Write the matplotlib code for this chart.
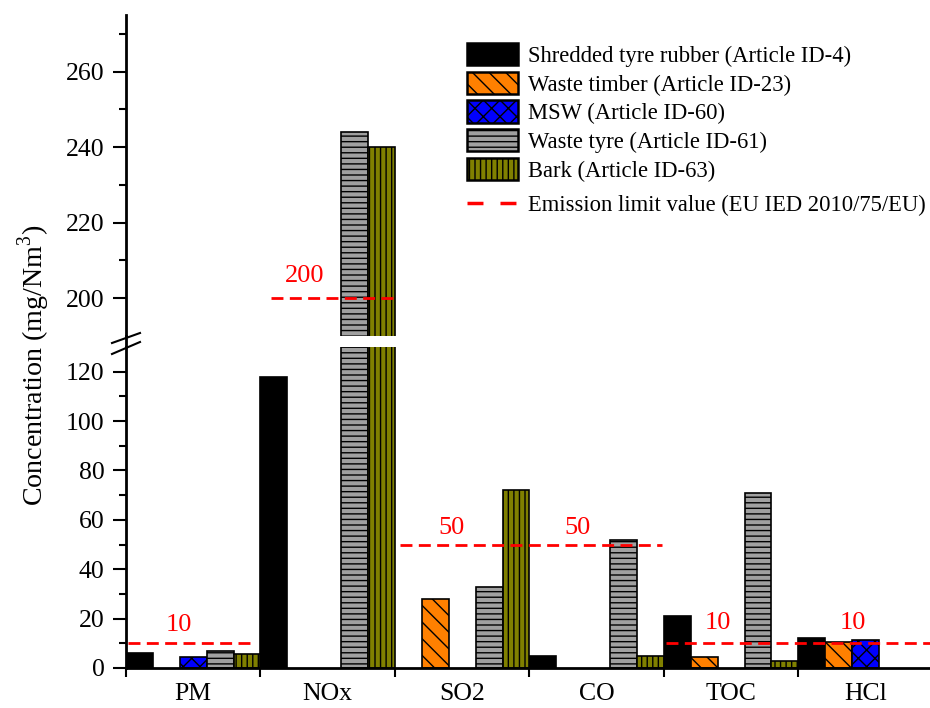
import matplotlib
matplotlib.use("Agg")
import matplotlib.pyplot as plt
import numpy as np
from matplotlib.patches import Patch
from matplotlib.lines import Line2D
from matplotlib.ticker import FixedLocator

plt.rcParams['font.family'] = ['Liberation Serif', 'DejaVu Serif']
plt.rcParams['mathtext.fontset'] = 'custom'
plt.rcParams['mathtext.rm'] = 'Liberation Serif'
plt.rcParams['hatch.linewidth'] = 1.0

categories = ["PM", "NOx", "SO2", "CO", "TOC", "HCl"]
series_names = ["Shredded tyre rubber (Article ID-4)",
                "Waste timber (Article ID-23)",
                "MSW (Article ID-60)",
                "Waste tyre (Article ID-61)",
                "Bark (Article ID-63)"]
shredded_tyre = [6, 118, np.nan, 5, 21, 12]
waste_timber = [np.nan, np.nan, 28, np.nan, 4.5, 10.5]
msw = [4.5, np.nan, np.nan, np.nan, np.nan, 11.5]
waste_tyre = [7, 244, 33, 52, 71, np.nan]
bark = [5.8, 240, 72, 5, 3, np.nan]
series = [shredded_tyre, waste_timber, msw, waste_tyre, bark]

# emission limit values
limit_values = [10, 200, 50, 50, 10, 10]
limit_label = "Emission limit value (EU IED 2010/75/EU)"

colors = ["#000000", "#FF8000", "#0000FF", "#A0A0A0", "#808000"]
hatches = [None, "\\\\", "xx", "---", "|||"]

fig = plt.figure(figsize=(9.3, 7.08), dpi=100)
left = 126 / 930
width = 1.0 - left + 0.003
ax_low = fig.add_axes([left, 1 - 668 / 708, width, (668 - 347) / 708])
ax_up = fig.add_axes([left, 1 - 336 / 708, width, (336 - 15) / 708])

x = np.arange(len(categories))
bw = 0.2
for i, (vals, c, h) in enumerate(zip(series, colors, hatches)):
    pos = x + (i - 2) * bw
    for ax in (ax_low, ax_up):
        ax.bar(pos, vals, width=bw, color=c, edgecolor="black", linewidth=1.2,
               hatch=h, zorder=2)

ax_low.set_ylim(0, 130)
ax_up.set_ylim(190, 275)
for ax in (ax_low, ax_up):
    ax.set_xlim(-0.5, len(categories) - 0.5)
    ax.spines['top'].set_visible(False)
    ax.spines['right'].set_visible(False)
    ax.spines['left'].set_linewidth(2.0)
    ax.spines['bottom'].set_linewidth(2.0)
    ax.tick_params(axis='y', which='major', direction='out', length=9.5, width=1.5,
                   labelsize=18.5, pad=6)
    ax.tick_params(axis='y', which='minor', direction='out', length=5, width=1.5)
    ax.set_facecolor('none')

ax_up.spines['bottom'].set_visible(False)
ax_up.tick_params(axis='x', which='both', bottom=False, labelbottom=False)
ax_low.yaxis.set_major_locator(FixedLocator([0, 20, 40, 60, 80, 100, 120]))
ax_low.yaxis.set_minor_locator(FixedLocator([10, 30, 50, 70, 90, 110]))
ax_up.yaxis.set_major_locator(FixedLocator([200, 220, 240, 260]))
ax_up.yaxis.set_minor_locator(FixedLocator([210, 230, 250, 270]))

# x ticks: boundaries as major ticks, labels at centers
ax_low.xaxis.set_major_locator(FixedLocator(np.arange(len(categories) + 1) - 0.5))
ax_low.xaxis.set_major_formatter(plt.NullFormatter())
ax_low.set_xticks(x, minor=True)
ax_low.set_xticklabels(categories, minor=True)
ax_low.tick_params(axis='x', which='major', direction='out', length=6.5, width=1.5)
ax_low.tick_params(axis='x', which='minor', length=0, labelsize=18.5, pad=11)

# emission limit lines
red = "#FF0000"
dash = dict(color=red, linewidth=2.0, linestyle=(0, (4.3, 2.3)), zorder=3)
seg = [(-0.485, 0.437), (0.578, 1.485), (1.537, 3.485), (1.537, 3.485),
       (3.515, 5.5), (3.515, 5.5)]
drawn = set()
for lv, (a, b), axi in zip(limit_values, seg, [ax_low, ax_up, ax_low, ax_low, ax_low, ax_low]):
    if (a, b, lv) in drawn:
        continue
    drawn.add((a, b, lv))
    axi.plot([a, b], [lv, lv], clip_on=False, **dash)

label_pos = [(-0.11, 17.5, ax_low), (0.83, 205.8, ax_up), (1.92, 56.7, ax_low),
             (2.86, 56.7, ax_low), (3.90, 18.2, ax_low), (4.905, 18.2, ax_low)]
for lv, (lx, ly, axi) in zip(limit_values, label_pos):
    axi.text(lx, ly, str(lv), color=red, fontsize=19, ha='center', va='center')

# spine continuation through the break and break marks
fig.add_artist(Line2D([left, left], [1 - 336 / 708, 1 - 347 / 708], color='black',
                      linewidth=2.0, transform=fig.transFigure))
for y0, y1 in ((343, 333), (354, 342)):
    fig.add_artist(Line2D([112 / 930, 140 / 930], [1 - y0 / 708, 1 - y1 / 708],
                          color='black', linewidth=1.5, transform=fig.transFigure))

# y label
fig.text(34 / 930, 1 - 365 / 708, "Concentration (mg/Nm$^{3}$)", rotation=90,
         ha='center', va='center', fontsize=20.2)

# legend (bars)
handles = [Patch(facecolor=c, edgecolor='black', hatch=h, linewidth=1.8)
           for c, h in zip(colors, hatches)]
leg1 = fig.legend(handles, series_names, loc='upper left',
                  bbox_to_anchor=(467 / 930, 1 - 43 / 708),
                  bbox_transform=fig.transFigure, frameon=False, fontsize=16.3,
                  handlelength=2.25, handleheight=1.15, labelspacing=0.21,
                  handletextpad=0.45, borderpad=0, borderaxespad=0)
# legend (limit line)
line_handle = Line2D([0], [0], color=red, linewidth=2.5, linestyle=(0, (4.6, 4.9)))
leg2 = fig.legend([line_handle], [limit_label], loc='upper left',
                  bbox_to_anchor=(467 / 930, 1 - 195 / 708),
                  bbox_transform=fig.transFigure, frameon=False, fontsize=16.3,
                  handlelength=2.25, handletextpad=0.45, borderpad=0, borderaxespad=0)

fig.savefig("out.png", dpi=100)
